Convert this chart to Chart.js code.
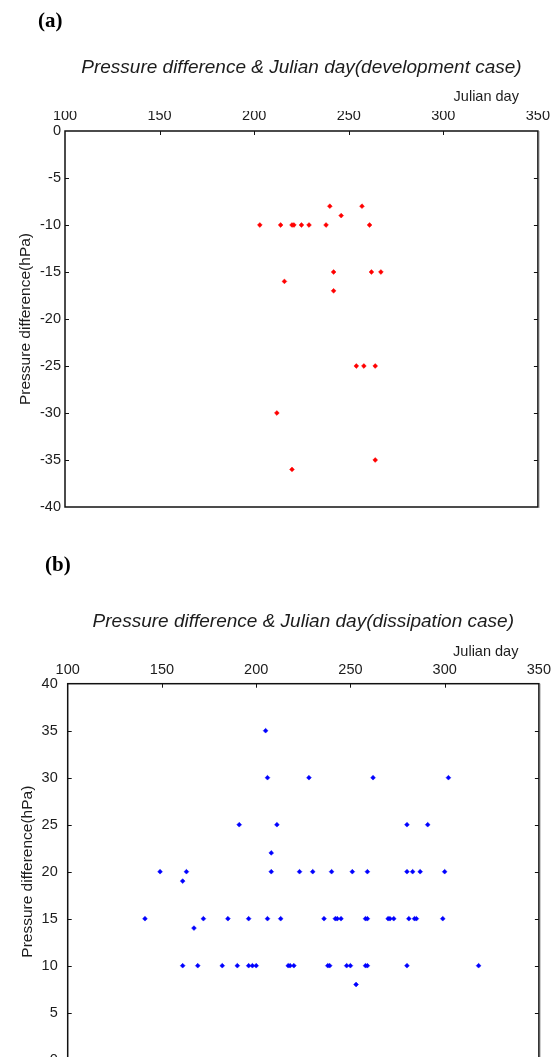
<!DOCTYPE html>
<html>
<head>
<meta charset="utf-8">
<script src="https://cdn.jsdelivr.net/npm/chart.js@4.4.1/dist/chart.umd.min.js"></script>
<style>
  html, body { margin: 0; padding: 0; background: #fff; overflow: hidden; width: 556px; height: 1057px; }
  .panel { position: absolute; left: 0; }
  #panelA { top: 0; }
  #panelB { top: 545px; }
</style>
</head>
<body>
<div class="panel" id="panelA"><canvas id="devChart" width="556" height="545"></canvas></div>
<div class="panel" id="panelB"><canvas id="disChart" width="556" height="545"></canvas></div>
<script>
// axis ticks (Julian day across the top, pressure difference down the side)
const dayTicks = [100, 150, 200, 250, 300, 350];
const devPressTicks = [0, -5, -10, -15, -20, -25, -30, -35, -40];
const disPressTicks = [40, 35, 30, 25, 20, 15, 10, 5, 0];

// (a) development case
const devDays = [203, 214, 220, 221, 225, 229, 238, 261, 240, 257, 246, 242, 262, 267, 216, 242, 254, 258, 264, 212, 264, 220];
const devDiff = [-10, -10, -10, -10, -10, -10, -10, -10, -8, -8, -9, -15, -15, -15, -16, -17, -25, -25, -25, -30, -35, -36];

// (b) dissipation case
const disDays = [205,
  206, 228, 262, 302,
  191, 211, 280, 291,
  208,
  149, 163, 208, 223, 230, 240, 251, 259, 280, 283, 287, 300,
  161,
  141, 172, 185, 196, 206, 213, 236, 242, 243, 245, 258, 259, 270, 271, 273, 281, 284, 285, 299,
  167,
  161, 169, 182, 190, 196, 198, 200, 217, 218, 220, 238, 239, 248, 250, 258, 259, 280, 318,
  253];
const disDiff = [35,
  30, 30, 30, 30,
  25, 25, 25, 25,
  22,
  20, 20, 20, 20, 20, 20, 20, 20, 20, 20, 20, 20,
  19,
  15, 15, 15, 15, 15, 15, 15, 15, 15, 15, 15, 15, 15, 15, 15, 15, 15, 15, 15,
  14,
  10, 10, 10, 10, 10, 10, 10, 10, 10, 10, 10, 10, 10, 10, 10, 10, 10, 10,
  8];

const FONT = "'Liberation Sans', Arial, sans-serif";
const TEXT = '#1c1c1c';

function toPoints(xs, ys) {
  var pts = [];
  for (var i = 0; i < xs.length; i++) {
    pts.push({x: xs[i], y: ys[i]});
  }
  return pts;
}

// frame, inward tick marks and the loose texts around the plot
const framePlugin = {
  id: 'framePlugin',
  afterDraw(chart, args, opts) {
    const ctx = chart.ctx;
    const a = chart.chartArea;
    const xs = chart.scales.x, ys = chart.scales.y;
    ctx.save();
    // faint shadow on the right edge, like the original export
    ctx.strokeStyle = '#c8c8c8';
    ctx.lineWidth = 1;
    ctx.beginPath();
    ctx.moveTo(a.right + 1.5, a.top);
    ctx.lineTo(a.right + 1.5, a.bottom + 1);
    ctx.stroke();

    ctx.strokeStyle = '#111';
    ctx.lineWidth = 1.5;
    ctx.strokeRect(a.left, a.top, a.right - a.left, a.bottom - a.top);

    ctx.lineWidth = 1;
    ctx.beginPath();
    xs.ticks.forEach(t => {
      if (t.value <= xs.min || t.value >= xs.max) return;
      let px = Math.round(xs.getPixelForValue(t.value)) + 0.5;
      ctx.moveTo(px, a.top);
      ctx.lineTo(px, a.top + 4);
    });
    ys.ticks.forEach(t => {
      if (t.value <= ys.min || t.value >= ys.max) return;
      let py = Math.round(ys.getPixelForValue(t.value)) + 0.5;
      ctx.moveTo(a.left, py);
      ctx.lineTo(a.left + 4, py);
      ctx.moveTo(a.right, py);
      ctx.lineTo(a.right - 4, py);
    });
    ctx.stroke();

    ctx.fillStyle = TEXT;
    ctx.textBaseline = 'middle';
    ctx.textAlign = 'center';
    ctx.font = 'italic 19px ' + FONT;
    ctx.fillText(opts.title, (a.left + a.right) / 2, a.top + opts.titleDy);

    ctx.textAlign = 'right';
    ctx.font = '14.5px ' + FONT;
    ctx.fillText('Julian day', a.right - opts.dayDx, a.top + opts.dayDy);

    ctx.textAlign = 'left';
    ctx.fillStyle = '#000';
    ctx.font = "bold 21px 'Liberation Serif', 'Times New Roman', serif";
    ctx.fillText(opts.panel, opts.panelX, opts.panelY);
    ctx.restore();
  }
};

function makeOptions(yMin, yMax, yWidth, yPad, yTitlePad, xPad, layoutPad, extra) {
  return {
    responsive: false,
    animation: false,
    layout: { padding: layoutPad },
    plugins: {
      legend: { display: false },
      tooltip: { enabled: false },
      framePlugin: extra
    },
    scales: {
      x: {
        type: 'linear',
        position: 'top',
        min: 100,
        max: 350,
        afterBuildTicks: (s) => { s.ticks = dayTicks.map(v => ({value: v})); },
        afterFit: (s) => { s.height = 20; },
        grid: { display: false, drawTicks: false },
        border: { display: false },
        ticks: { padding: xPad, color: TEXT, font: { family: FONT, size: 14.5 }, maxRotation: 0, autoSkip: false }
      },
      y: {
        type: 'linear',
        position: 'left',
        min: yMin,
        max: yMax,
        afterBuildTicks: (s) => { s.ticks = (yMin < 0 ? devPressTicks : disPressTicks).map(v => ({value: v})); },
        afterFit: (s) => { s.width = yWidth; },
        grid: { display: false, drawTicks: false },
        border: { display: false },
        ticks: { padding: yPad, color: TEXT, font: { family: FONT, size: 14.5 }, autoSkip: false },
        title: {
          display: true,
          text: 'Pressure difference(hPa)',
          color: TEXT,
          font: { family: FONT, size: 15.5 },
          padding: { top: yTitlePad, bottom: 0 }
        }
      }
    }
  };
}

var devCtx = document.getElementById('devChart').getContext('2d');
var devChart = new Chart(devCtx, {
  type: 'scatter',
  data: {
    datasets: [{
      data: toPoints(devDays, devDiff),
      backgroundColor: '#ff0000',
      borderColor: '#ff0000',
      borderWidth: 0.5,
      pointStyle: 'rectRot',
      pointRadius: 2.4
    }]
  },
  options: makeOptions(-40, 0, 65, 4, 16, 6,
    { left: 0, top: 111, right: 18, bottom: 38 },
    { title: 'Pressure difference & Julian day(development case)', titleDy: -63, dayDx: 19, dayDy: -34, panel: '(a)', panelX: 38, panelY: 22 }),
  plugins: [framePlugin]
});

// panel b runs off the bottom of the page, so the canvas is taller than what is left
var disCtx = document.getElementById('disChart').getContext('2d');
var disChart = new Chart(disCtx, {
  type: 'scatter',
  data: {
    datasets: [{
      data: toPoints(disDays, disDiff),
      backgroundColor: '#0000ff',
      borderColor: '#0000ff',
      borderWidth: 0.5,
      pointStyle: 'rectRot',
      pointRadius: 2.4
    }]
  },
  options: makeOptions(0, 40, 67.7, 10, 18, 5,
    { left: 0, top: 118.7, right: 14.5, bottom: 30.3 },
    { title: 'Pressure difference & Julian day(dissipation case)', titleDy: -62, dayDx: 20.5, dayDy: -32, panel: '(b)', panelX: 45, panelY: 21 }),
  plugins: [framePlugin]
});
</script>
</body>
</html>
